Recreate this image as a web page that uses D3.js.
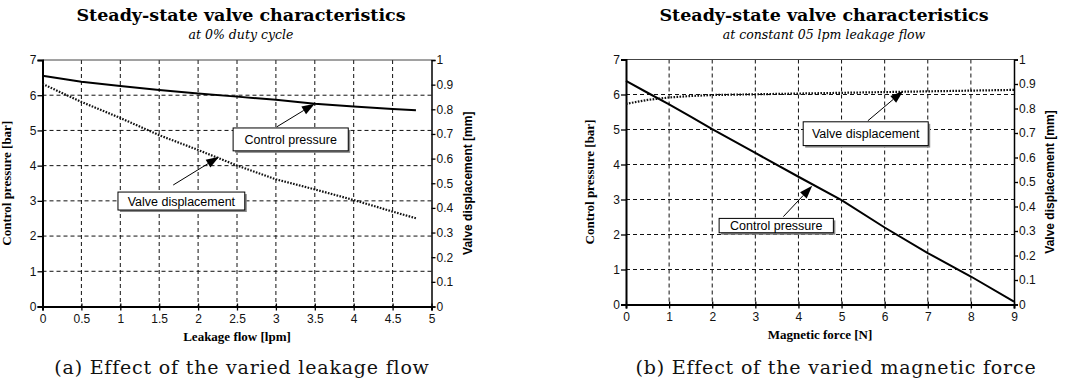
<!DOCTYPE html>
<html lang="en">
<head>
  <meta charset="UTF-8" />
  <title>Steady-state valve characteristics</title>
  <script src="https://cdnjs.cloudflare.com/ajax/libs/d3/7.8.5/d3.min.js"></script>
  <style>
    html, body { margin: 0; padding: 0; background: #fff; overflow: hidden; }
    svg { display: block; }
  </style>
</head>
<body>
  <script>
    // ----------------------------
    // Data
    // ----------------------------
    // (a) varied leakage flow
    const leakFlow  = [0, 0.5, 1, 1.5, 2, 2.5, 3, 3.5, 4, 4.5, 4.8];
    const pressureA = [6.55, 6.38, 6.26, 6.15, 6.05, 5.96, 5.87, 5.76, 5.68, 5.61, 5.57];
    const displA    = [0.903, 0.83, 0.765, 0.695, 0.635, 0.572, 0.516, 0.475, 0.432, 0.385, 0.358];

    // (b) varied magnetic force
    const magForce  = [0, 0.5, 1, 1.5, 2, 3, 4, 5, 6, 7, 8, 9];
    const pressureB = [6.39, 6.05, 5.72, 5.37, 5.01, 4.33, 3.65, 2.98, 2.2, 1.47, 0.8, 0.08];
    const displB    = [0.819, 0.835, 0.845, 0.851, 0.855, 0.858, 0.861, 0.864, 0.867, 0.870, 0.873, 0.876];

    // ticks
    const leakTicks  = [0, 0.5, 1, 1.5, 2, 2.5, 3, 3.5, 4, 4.5, 5];
    const forceTicks = [0, 1, 2, 3, 4, 5, 6, 7, 8, 9];
    const pressTicks = [0, 1, 2, 3, 4, 5, 6, 7];
    const dispTicks  = [0, 0.1, 0.2, 0.3, 0.4, 0.5, 0.6, 0.7, 0.8, 0.9, 1];

    // text
    const titleText = "Steady-state valve characteristics";
    const subtitles = ["at 0% duty cycle", "at constant 05 lpm leakage flow"];
    const xLabels   = ["Leakage flow [lpm]", "Magnetic force [N]"];
    const captions  = ["(a)  Effect of the varied leakage flow", "(b)  Effect of the varied magnetic force"];
    const yLabelL   = "Control pressure [bar]";
    const yLabelR   = "Valve displacement [mm]";

    // annotation boxes in data units: [x0, x1, yTop, yBottom], arrow [fromX, fromY, toX, toY] (pressure scale)
    const annotA = [
      { text: "Control pressure",   box: [2.45, 3.93, 5.07, 4.42], arrow: [3.01, 5.1, 3.5, 5.76] },
      { text: "Valve displacement", box: [0.97, 2.6, 3.25, 2.74],  arrow: [1.68, 3.45, 2.27, 4.25] }
    ];
    const annotB = [
      { text: "Valve displacement", box: [4.11, 7.01, 5.22, 4.54], arrow: [5.61, 5.25, 6.43, 6.1] },
      { text: "Control pressure",   box: [2.16, 4.81, 2.46, 2.05], arrow: [3.65, 2.51, 4.32, 3.39] }
    ];

    // ----------------------------
    // Setup
    // ----------------------------
    const width = 1069, height = 383;
    const svg = d3.select("body").append("svg")
      .attr("width", width).attr("height", height);

    const serif = "'DejaVu Serif', 'Liberation Serif', serif";
    const times = "'Liberation Serif', serif";
    const sans  = "'Liberation Sans', Arial, sans-serif";

    function drawPanel(opt) {
      const x = d3.scaleLinear().domain(opt.xDomain).range([opt.left, opt.right]);
      const yP = d3.scaleLinear().domain([0, 7]).range([opt.bottom, opt.top]);
      const yD = d3.scaleLinear().domain([0, 1]).range([opt.bottom, opt.top]);
      const g = svg.append("g");
      const cx = (opt.left + opt.right) / 2;

      // titles
      g.append("text").attr("x", cx + 4).attr("y", 21)
        .attr("text-anchor", "middle").attr("font-family", serif)
        .attr("font-weight", "bold").attr("font-size", 17.5).text(titleText);
      g.append("text").attr("x", cx + 4).attr("y", 39)
        .attr("text-anchor", "middle").attr("font-family", serif)
        .attr("font-style", "italic").attr("font-size", 12.5).text(opt.subtitle);

      // grid
      const grid = g.append("g").attr("stroke", "#111").attr("stroke-width", 1)
        .attr("stroke-dasharray", "4,3");
      grid.selectAll("line.v").data(opt.xTicks.slice(1, -1)).join("line")
        .attr("x1", d => x(d)).attr("x2", d => x(d))
        .attr("y1", opt.top).attr("y2", opt.bottom);
      grid.selectAll("line.h").data(pressTicks.slice(1, -1)).join("line")
        .attr("x1", opt.left).attr("x2", opt.right)
        .attr("y1", d => yP(d)).attr("y2", d => yP(d));

      // frame
      g.append("line").attr("x1", opt.left).attr("x2", opt.right)
        .attr("y1", opt.top).attr("y2", opt.top).attr("stroke", "#444").attr("stroke-width", 1);

      // axes
      const ax = g.append("g").attr("transform", `translate(0,${opt.bottom})`)
        .call(d3.axisBottom(x).tickValues(opt.xTicks).tickSize(4).tickFormat(d => String(d)));
      const ayl = g.append("g").attr("transform", `translate(${opt.left},0)`)
        .call(d3.axisLeft(yP).tickValues(pressTicks).tickSize(5).tickFormat(d => String(d)));
      const ayr = g.append("g").attr("transform", `translate(${opt.right},0)`)
        .call(d3.axisRight(yD).tickValues(dispTicks).tickSize(4)
          .tickFormat(d => (d === 0 || d === 1) ? String(d) : d.toFixed(1)));
      [ax, ayl, ayr].forEach(a => {
        a.select(".domain").attr("stroke", "#000").attr("stroke-width", 2);
        a.selectAll(".tick line").attr("stroke", "#000").attr("stroke-width", 1.3);
        a.selectAll(".tick text").attr("font-family", sans).attr("font-size", 12)
          .attr("fill", "#111");
      });
      ax.selectAll(".tick line").attr("y1", -3);
      ax.selectAll(".tick text").attr("dy", "0.8em");
      ayl.selectAll(".tick text").attr("x", -6);
      ayr.selectAll(".tick text").attr("x", 5);
      ayr.select(".domain").attr("stroke-width", 1.5);

      // axis labels
      g.append("text").attr("x", cx).attr("y", opt.bottom + 34)
        .attr("text-anchor", "middle").attr("font-family", times).attr("font-weight", "bold")
        .attr("font-size", 13).text(opt.xLabel);
      g.append("text").attr("transform", `translate(${opt.left - 32},${(opt.top + opt.bottom) / 2}) rotate(-90)`)
        .attr("text-anchor", "middle").attr("font-family", times).attr("font-weight", "bold")
        .attr("font-size", 13).text(yLabelL);
      g.append("text").attr("transform", `translate(${opt.right + 40},${(opt.top + opt.bottom) / 2}) rotate(-90)`)
        .attr("text-anchor", "middle").attr("font-family", sans).attr("font-weight", "bold")
        .attr("font-size", 12).text(yLabelR);

      // series
      const pressLine = d3.line().x((d, i) => x(opt.xs[i])).y(d => yP(d));
      const dispLine = d3.line().x((d, i) => x(opt.xs[i])).y(d => yD(d));
      g.append("path").datum(opt.pressure).attr("d", pressLine)
        .attr("fill", "none").attr("stroke", "#000").attr("stroke-width", 2);
      g.append("path").datum(opt.disp).attr("d", dispLine)
        .attr("fill", "none").attr("stroke", "#111").attr("stroke-width", 2.2)
        .attr("stroke-dasharray", "1.6,1.4");

      // annotations
      opt.annot.forEach(a => {
        const [bx0, bx1, byT, byB] = a.box;
        const rx = x(bx0), ry = yP(byT), rw = x(bx1) - x(bx0), rh = yP(byB) - yP(byT);
        g.append("rect").attr("x", rx + 2).attr("y", ry + 2).attr("width", rw).attr("height", rh)
          .attr("fill", "#888");
        g.append("rect").attr("x", rx).attr("y", ry).attr("width", rw).attr("height", rh)
          .attr("fill", "#fff").attr("stroke", "#000").attr("stroke-width", 1);
        g.append("text").attr("x", rx + rw / 2).attr("y", ry + rh / 2 + 4.5)
          .attr("text-anchor", "middle").attr("font-family", sans).attr("font-size", 12.5)
          .attr("fill", "#000").text(a.text);

        const [fx, fy, tx, ty] = a.arrow;
        const x1 = x(fx), y1 = yP(fy), x2 = x(tx), y2 = yP(ty);
        const ang = Math.atan2(y2 - y1, x2 - x1);
        const hl = 13, hw = 4.5;
        const bxp = x2 - hl * Math.cos(ang), byp = y2 - hl * Math.sin(ang);
        g.append("line").attr("x1", x1).attr("y1", y1).attr("x2", bxp).attr("y2", byp)
          .attr("stroke", "#000").attr("stroke-width", 1);
        const pts = [
          [x2, y2],
          [bxp + hw * Math.sin(ang), byp - hw * Math.cos(ang)],
          [bxp - hw * Math.sin(ang), byp + hw * Math.cos(ang)]
        ];
        g.append("path").attr("d", "M" + pts.map(p => p.join(",")).join("L") + "Z")
          .attr("fill", "#000");
      });

      // caption
      g.append("text").attr("x", cx + opt.capShift).attr("y", 374)
        .attr("text-anchor", "middle").attr("font-family", serif)
        .attr("font-size", 19).attr("letter-spacing", 0.8)
        .attr("fill", "#111").text(opt.caption);
    }

    drawPanel({
      left: 42.5, right: 431.5, top: 60, bottom: 306.5,
      xDomain: [0, 5], xTicks: leakTicks,
      xs: leakFlow, pressure: pressureA, disp: displA, capShift: 5,
      subtitle: subtitles[0], xLabel: xLabels[0], caption: captions[0], annot: annotA
    });
    drawPanel({
      left: 626, right: 1014, top: 59.5, bottom: 304.5,
      xDomain: [0, 9], xTicks: forceTicks,
      xs: magForce, pressure: pressureB, disp: displB, capShift: 16,
      subtitle: subtitles[1], xLabel: xLabels[1], caption: captions[1], annot: annotB
    });
  </script>
</body>
</html>
